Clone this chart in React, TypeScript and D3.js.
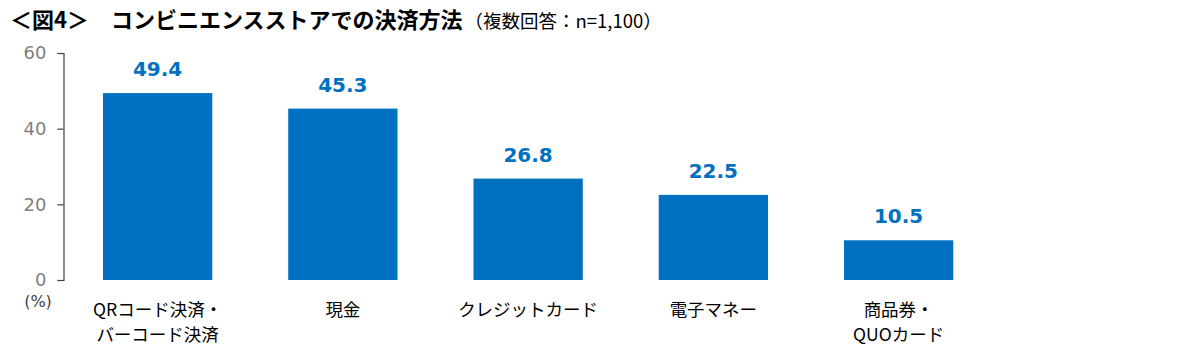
import React, { useEffect, useRef } from 'react'
import * as d3 from 'd3'

const categories = [
  ['QRコード決済・', 'バーコード決済'],
  ['現金'],
  ['クレジットカード'],
  ['電子マネー'],
  ['商品券・', 'QUOカード'],
]
const values = [49.4, 45.3, 26.8, 22.5, 10.5]
const yTicks = [0, 20, 40, 60]

const W = 1200
const H = 354
const BLUE = '#0070c0'
const JP = '"Noto Sans CJK JP", sans-serif'
const NUM = '"DejaVu Sans", "Noto Sans CJK JP", sans-serif'

const draw = (el: SVGSVGElement) => {
  const svg = d3.select(el)
  svg.selectAll('*').remove()

  // Title
  const title = svg.append('text').attr('x', 10).attr('y', 28).attr('fill', '#000')
  title
    .append('tspan')
    .attr('font-family', JP)
    .attr('font-weight', 'bold')
    .attr('font-size', 22)
    .text('＜図4＞　コンビニエンスストアでの決済方法')
  title
    .append('tspan')
    .attr('font-family', JP)
    .attr('font-size', 18.5)
    .attr('dx', 2)
    .text('（複数回答：n=1,100）')

  // Scales
  const x = d3
    .scaleBand<number>()
    .domain(d3.range(values.length))
    .range([65, 991.25])
    .paddingInner(0.41)
    .paddingOuter(0.205)

  const y = d3.scaleLinear().domain([0, 60]).range([280, 53])

  // Axis
  const axis = d3
    .axisLeft(y)
    .tickValues(yTicks)
    .tickSize(6)
    .tickPadding(11)
  const g = svg.append('g').attr('transform', 'translate(63.5,0)').call(axis)
  g.select('.domain').attr('stroke', '#404040').attr('stroke-width', 1.2)
  g.selectAll('.tick line').attr('stroke', '#404040').attr('stroke-width', 1.2)
  g.selectAll('.tick text')
    .attr('fill', '#7f7f7f')
    .attr('font-size', 18)
    .attr('font-family', NUM)

  svg
    .append('text')
    .attr('x', 38)
    .attr('y', 307)
    .attr('text-anchor', 'middle')
    .attr('font-family', NUM)
    .attr('font-size', 16)
    .attr('fill', '#404040')
    .text('(%)')

  // Bars
  svg
    .append('g')
    .selectAll('rect')
    .data(values)
    .join('rect')
    .attr('x', (_, i) => x(i)!)
    .attr('y', d => y(d))
    .attr('width', x.bandwidth())
    .attr('height', d => y(0) - y(d))
    .attr('fill', BLUE)

  // Value labels
  svg
    .append('g')
    .selectAll('text')
    .data(values)
    .join('text')
    .attr('x', (_, i) => x(i)! + x.bandwidth() / 2)
    .attr('y', d => y(d) - 17)
    .attr('text-anchor', 'middle')
    .attr('font-family', NUM)
    .attr('font-weight', 'bold')
    .attr('font-size', 20)
    .attr('fill', BLUE)
    .text(d => d.toFixed(1))

  // Category labels
  const cats = svg
    .append('g')
    .selectAll('text')
    .data(categories)
    .join('text')
    .attr('x', (_, i) => x(i)! + x.bandwidth() / 2)
    .attr('y', 316)
    .attr('text-anchor', 'middle')
    .attr('font-family', JP)
    .attr('font-size', 17.5)
    .attr('fill', '#000')
  cats
    .selectAll('tspan')
    .data(d => d)
    .join('tspan')
    .attr('x', function () {
      return (this as SVGTSpanElement).parentElement!.getAttribute('x')
    })
    .attr('dy', (_, i) => (i === 0 ? 0 : 25))
    .text(d => d)
}

export default function App() {
  const ref = useRef<SVGSVGElement>(null)
  useEffect(() => {
    if (ref.current) draw(ref.current)
  }, [])
  return (
    <svg
      ref={ref}
      width={W}
      height={H}
      style={{ display: 'block', position: 'absolute', left: 0, top: 0, background: '#fff' }}
    />
  )
}
